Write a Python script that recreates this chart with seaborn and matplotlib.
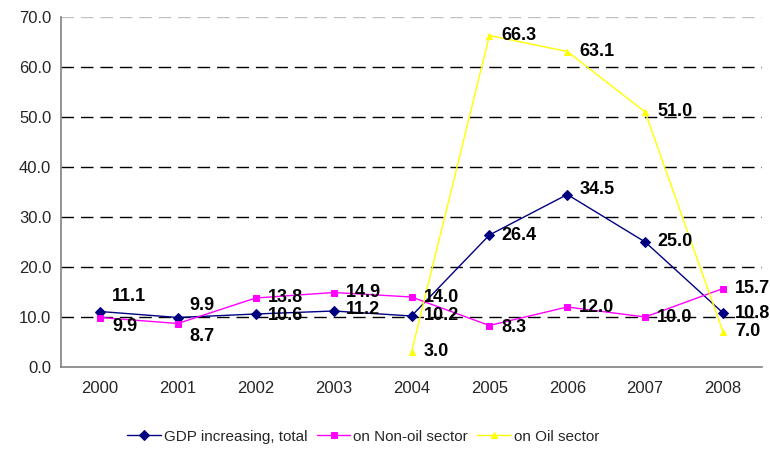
#!/usr/bin/env python3
# GDP growth by sector, 2000-2008
import pandas as pd
import numpy as np
import seaborn as sns
import matplotlib.pyplot as plt

# data
years = ['2000', '2001', '2002', '2003', '2004', '2005', '2006', '2007', '2008']
gdp_total = [11.1, 9.9, 10.6, 11.2, 10.2, 26.4, 34.5, 25.0, 10.8]
non_oil = [9.9, 8.7, 13.8, 14.9, 14.0, 8.3, 12.0, 10.0, 15.7]
oil = [np.nan, np.nan, np.nan, np.nan, 3.0, 66.3, 63.1, 51.0, 7.0]
names = ['GDP increasing, total', 'on Non-oil sector', 'on Oil sector']

sns.set_style('white')
plt.rcParams['font.family'] = ['Liberation Sans', 'DejaVu Sans']

fig = plt.figure(figsize=(7.7, 4.55), dpi=100)
ax = fig.add_axes([61 / 770, 1 - 367 / 455, 701 / 770, 350 / 455])

pos = np.arange(len(years))
series = [gdp_total, non_oil, oil]
colors = ['#000080', '#FF00FF', '#FFFF00']
markers = ['D', 's', '^']
msizes = [5.5, 6.5, 8]
# vertical nudges (pixels) for the value labels
nudges = [[15, 12, -1, 2, 0, -1, 5, 0, 0],
          [-9, -13, 0, 0, 0, -2, 0, 0, 0],
          [0, 0, 0, 0, 0, 0, 0, 0, 0]]

for vals, name, col, mk, ms, nd in zip(series, names, colors, markers, msizes, nudges):
    d = pd.DataFrame({'x': pos, 'y': vals}).dropna()
    sns.lineplot(x='x', y='y', data=d, ax=ax, color=col, marker=mk, markersize=ms,
                 markeredgecolor=col, linewidth=1, label=name, legend=False)
    for xi, yi in zip(d['x'], d['y']):
        ax.annotate(f'{yi:.1f}', (xi, yi), xytext=(12, nd[xi]), textcoords='offset pixels',
                    ha='left', va='center', fontsize=13, fontweight='bold', color='black')

ax.set_xlim(-0.5, len(years) - 0.5)
ax.set_ylim(0, 70)
ax.set_yticks(np.arange(0, 71, 10))
ax.set_yticklabels([f'{v:.1f}' for v in range(0, 71, 10)], fontsize=12)
ax.set_xticks(pos)
ax.set_xticklabels(years, fontsize=12)
ax.set_xticks(np.arange(-0.5, len(years)), minor=True)
ax.tick_params(axis='x', which='major', length=0, pad=10)
ax.tick_params(axis='x', which='minor', length=5, width=1, color='black', direction='out')
ax.tick_params(axis='y', length=5, width=1, color='black', direction='out', pad=2)
ax.set_xlabel('')
ax.set_ylabel('')

# dashed grid
for v in range(10, 61, 10):
    ax.axhline(v, color='black', linestyle=(0, (9, 5)), linewidth=1, zorder=0)
ax.axhline(70, color='#c0c0c0', linestyle=(0, (9, 5)), linewidth=1, zorder=0)

for s in ['top', 'right']:
    ax.spines[s].set_visible(False)
for s in ['left', 'bottom']:
    ax.spines[s].set_color('#808080')
    ax.spines[s].set_linewidth(1.2)

handles, labels = ax.get_legend_handles_labels()
for h in handles:
    h.set_markersize(5)
fig.legend(handles, labels, loc='center', bbox_to_anchor=(0.472, 0.04), ncol=3,
           frameon=False, fontsize=11, handlelength=2.2, handletextpad=0.2,
           columnspacing=0.6)

fig.savefig('out.png', dpi=100)
